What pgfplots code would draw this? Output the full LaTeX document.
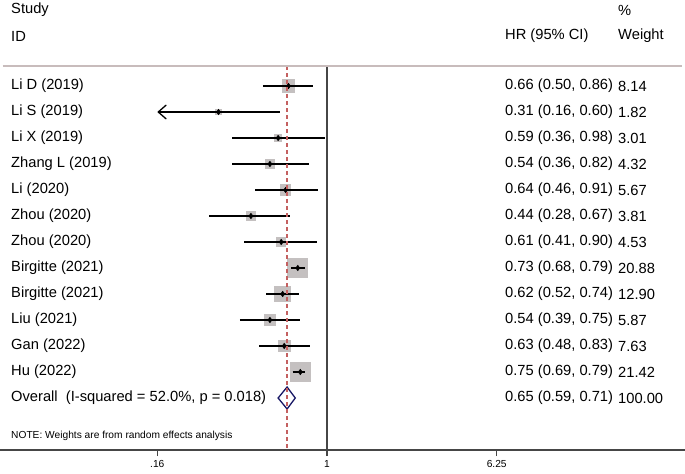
\documentclass[border=0pt]{standalone}
\usepackage{pgfplots}
\pgfplotsset{compat=1.18}
\usepackage{pgfplotstable}
\usepackage{fontspec}
\setmainfont{Liberation Sans}
\usetikzlibrary{arrows.meta}
\definecolor{boxgray}{RGB}{196,192,192}
\definecolor{refred}{RGB}{196,96,96}
\definecolor{navy}{RGB}{22,22,100}
\definecolor{sepgray}{RGB}{200,188,188}
\definecolor{axgray}{RGB}{70,70,70}

% row: study position (1 = top), hr, lo, hi, weight
\pgfplotstableread{
row hr   lo   hi   w
1   0.66 0.50 0.86 8.14
2   0.31 0.16 0.60 1.82
3   0.59 0.36 0.98 3.01
4   0.54 0.36 0.82 4.32
5   0.64 0.46 0.91 5.67
6   0.44 0.28 0.67 3.81
7   0.61 0.41 0.90 4.53
8   0.73 0.68 0.79 20.88
9   0.62 0.52 0.74 12.90
10  0.54 0.39 0.75 5.87
11  0.63 0.48 0.83 7.63
12  0.75 0.69 0.79 21.42
}\studies

\newcommand{\fs}{\fontsize{14.7bp}{16bp}\selectfont}
\newcommand{\sfs}{\fontsize{10.2bp}{12bp}\selectfont}
% weight box: half side proportional to sqrt(weight)
\newcommand{\wbox}[3]{\addplot[only marks, mark=square*, mark options={draw=boxgray, fill=boxgray, line width=0pt}, mark size={2.16*sqrt(#3)}] coordinates {(#1,#2)};}

\begin{document}
\begin{tikzpicture}
\begin{axis}[
  scale only axis,
  width=685bp, height=450bp,
  xmode=log,
  xmin=0.02928, xmax=47.75,
  ymin=-2.3077, ymax=15,
  y dir=reverse,
  axis x line=bottom,
  axis y line=none,
  axis line style={-, axgray, line width=1.1bp},
  xtick={0.16,1,6.25},
  xticklabels={.16,1,6.25},
  tick align=outside,
  major tick length=6bp,
  tick style={axgray, line width=1.1bp},
  xticklabel style={font=\sfs, text=black, yshift=-1bp},
  clip=false,
  clip marker paths=true,
]
% weight boxes
\wbox{0.66}{1}{8.14}
\wbox{0.31}{2}{1.82}
\wbox{0.59}{3}{3.01}
\wbox{0.54}{4}{4.32}
\wbox{0.64}{5}{5.67}
\wbox{0.44}{6}{3.81}
\wbox{0.61}{7}{4.53}
\wbox{0.73}{8}{20.88}
\wbox{0.62}{9}{12.90}
\wbox{0.54}{10}{5.87}
\wbox{0.63}{11}{7.63}
\wbox{0.75}{12}{21.42}

% null line
\addplot[axgray, line width=1.1bp] coordinates {(1,0.231) (1,15)};

% confidence intervals
\addplot[black, line width=1.3bp] coordinates {(0.50,1) (0.86,1)};
\addplot[black, line width=1.3bp, -{Straight Barb[length=8bp, width=14bp, line width=1.3bp]}] coordinates {(0.60,2) (0.16,2)};
\addplot[black, line width=1.3bp] coordinates {(0.36,3) (0.98,3)};
\addplot[black, line width=1.3bp] coordinates {(0.36,4) (0.82,4)};
\addplot[black, line width=1.3bp] coordinates {(0.46,5) (0.91,5)};
\addplot[black, line width=1.3bp] coordinates {(0.28,6) (0.67,6)};
\addplot[black, line width=1.3bp] coordinates {(0.41,7) (0.90,7)};
\addplot[black, line width=1.3bp] coordinates {(0.68,8) (0.79,8)};
\addplot[black, line width=1.3bp] coordinates {(0.52,9) (0.74,9)};
\addplot[black, line width=1.3bp] coordinates {(0.39,10) (0.75,10)};
\addplot[black, line width=1.3bp] coordinates {(0.48,11) (0.83,11)};
\addplot[black, line width=1.3bp] coordinates {(0.69,12) (0.79,12)};

% point estimates
\addplot[only marks, mark=diamond*, mark size=2.8bp, black] table[x=hr, y=row] {\studies};

% overall diamond
\addplot[draw=navy, fill=white, line width=1.3bp] coordinates {(0.59,13) (0.65,12.577) (0.71,13) (0.65,13.423)} -- cycle;

% overall effect line
\addplot[refred, line width=1.3bp, dash pattern=on 4bp off 3bp] coordinates {(0.65,0.231) (0.65,15)};

% text
\def\tx#1#2#3{\node[anchor=west, inner sep=0pt, font=\fs] at ({rel axis cs:#1,0} |- {axis cs:1,#2}) {#3};}
\tx{0.01606}{-1.923}{Study}
\tx{0.01606}{-0.923}{ID}
\tx{0.7372}{-0.923}{HR (95\% CI)}
\tx{0.9022}{-1.923}{\%}
\tx{0.9022}{-0.923}{Weight}

\tx{0.01606}{1}{Li D (2019)}
\tx{0.01606}{2}{Li S (2019)}
\tx{0.01606}{3}{Li X (2019)}
\tx{0.01606}{4}{Zhang L (2019)}
\tx{0.01606}{5}{Li (2020)}
\tx{0.01606}{6}{Zhou (2020)}
\tx{0.01606}{7}{Zhou (2020)}
\tx{0.01606}{8}{Birgitte (2021)}
\tx{0.01606}{9}{Birgitte (2021)}
\tx{0.01606}{10}{Liu (2021)}
\tx{0.01606}{11}{Gan (2022)}
\tx{0.01606}{12}{Hu (2022)}
\tx{0.01606}{13}{Overall\ \ (I-squared = 52.0\%, p = 0.018)}

\tx{0.7372}{1}{0.66 (0.50, 0.86)}
\tx{0.7372}{2}{0.31 (0.16, 0.60)}
\tx{0.7372}{3}{0.59 (0.36, 0.98)}
\tx{0.7372}{4}{0.54 (0.36, 0.82)}
\tx{0.7372}{5}{0.64 (0.46, 0.91)}
\tx{0.7372}{6}{0.44 (0.28, 0.67)}
\tx{0.7372}{7}{0.61 (0.41, 0.90)}
\tx{0.7372}{8}{0.73 (0.68, 0.79)}
\tx{0.7372}{9}{0.62 (0.52, 0.74)}
\tx{0.7372}{10}{0.54 (0.39, 0.75)}
\tx{0.7372}{11}{0.63 (0.48, 0.83)}
\tx{0.7372}{12}{0.75 (0.69, 0.79)}
\tx{0.7372}{13}{0.65 (0.59, 0.71)}

\tx{0.9022}{1}{8.14}
\tx{0.9022}{2}{1.82}
\tx{0.9022}{3}{3.01}
\tx{0.9022}{4}{4.32}
\tx{0.9022}{5}{5.67}
\tx{0.9022}{6}{3.81}
\tx{0.9022}{7}{4.53}
\tx{0.9022}{8}{20.88}
\tx{0.9022}{9}{12.90}
\tx{0.9022}{10}{5.87}
\tx{0.9022}{11}{7.63}
\tx{0.9022}{12}{21.42}
\tx{0.9022}{13}{100.00}

\node[anchor=west, inner sep=0pt, font=\sfs] at ({rel axis cs:0.01606,0} |- {axis cs:1,14.46}) {NOTE: Weights are from random effects analysis};

\coordinate (S1) at ({rel axis cs:0.004,0} |- {axis cs:1,0.231});
\coordinate (S2) at ({rel axis cs:0.996,0} |- {axis cs:1,0.231});
\coordinate (NW) at ({rel axis cs:0,0} |- {axis cs:1,-2.3077});
\coordinate (SE) at ({rel axis cs:1,0} |- {axis cs:1,15});
\end{axis}
% header separator
\draw[sepgray, line width=2bp] (S1) -- (S2);
\pgfresetboundingbox
\path (NW) rectangle ([yshift=-24bp]SE);
\end{tikzpicture}
\end{document}
